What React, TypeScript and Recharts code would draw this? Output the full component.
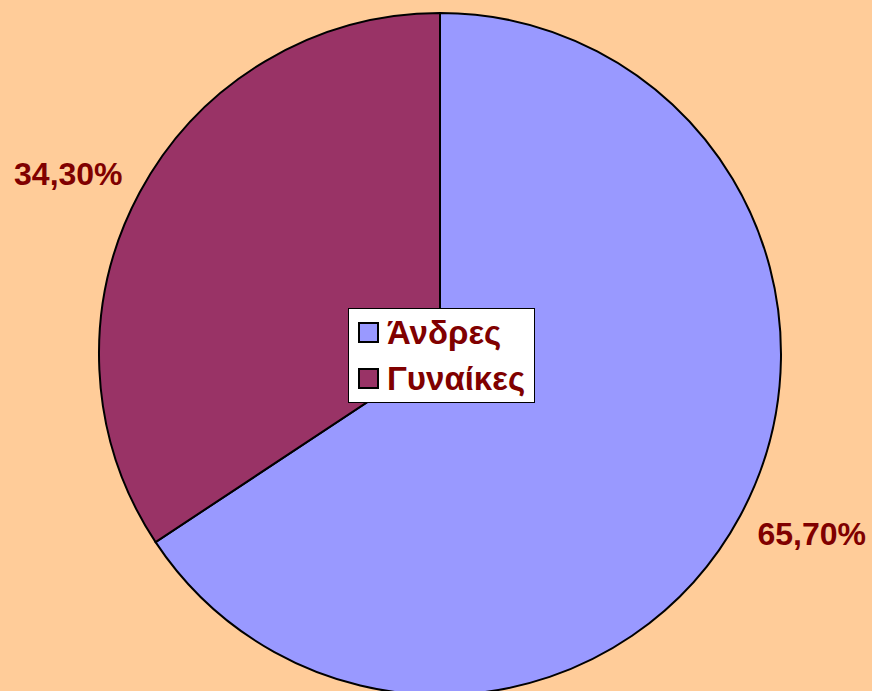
import React from 'react';
import { PieChart, Pie, Cell, Legend } from 'recharts';

const categories = ['Άνδρες', 'Γυναίκες'];
const shares = [65.7, 34.3];
const shareLabels = ['65,70%', '34,30%'];

const COLORS = ['#9999FF', '#993366'];
const TEXT_COLOR = '#800000';
const FONT = '"Liberation Sans", Arial, sans-serif';

const data = categories.map((name, i) => ({ name, value: shares[i], label: shareLabels[i] }));

const RAD = Math.PI / 180;

const renderLabel = (props: any) => {
  const { cx, cy, midAngle, outerRadius, index } = props;
  const r = outerRadius + 81;
  const x = cx + r * Math.cos(-midAngle * RAD);
  const y = cy + r * Math.sin(-midAngle * RAD) * 0.9;
  return (
    <text
      x={x}
      y={y}
      textAnchor="middle"
      dominantBaseline="central"
      fill={TEXT_COLOR}
      fontSize={32}
      fontWeight="bold"
      fontFamily={FONT}
    >
      {data[index].label}
    </text>
  );
};

const LegendBox = () => (
  <div
    style={{
      width: 185,
      height: 93,
      background: '#fff',
      border: '1px solid #000',
      boxSizing: 'content-box',
    }}
  >
    {data.map((d, i) => (
      <div key={d.name} style={{ display: 'flex', alignItems: 'center', height: 46.5, paddingLeft: 9 }}>
        <div
          style={{
            width: 17,
            height: 17,
            background: COLORS[i],
            border: '2px solid #000',
            marginRight: 8,
          }}
        />
        <span style={{ color: TEXT_COLOR, fontSize: 33, fontWeight: 'bold', fontFamily: FONT, lineHeight: 1 }}>
          {d.name}
        </span>
      </div>
    ))}
  </div>
);

export default function App() {
  return (
    <div style={{ position: 'fixed', left: 0, top: 0, width: 872, height: 691, background: '#FFCC99' }}>
      <PieChart width={872} height={691} margin={{ top: 0, right: 0, bottom: 0, left: 0 }}>
        <Pie
          data={data}
          dataKey="value"
          nameKey="name"
          cx={440}
          cy={354}
          outerRadius={341}
          startAngle={90}
          endAngle={-270}
          stroke="#000"
          strokeWidth={2}
          label={renderLabel}
          labelLine={false}
          isAnimationActive={false}
        >
          {data.map((d, i) => (
            <Cell key={d.name} fill={COLORS[i]} />
          ))}
        </Pie>
        <Legend
          content={<LegendBox />}
          wrapperStyle={{ position: 'absolute', left: 348, top: 308, width: 187, height: 95 }}
        />
      </PieChart>
    </div>
  );
}
